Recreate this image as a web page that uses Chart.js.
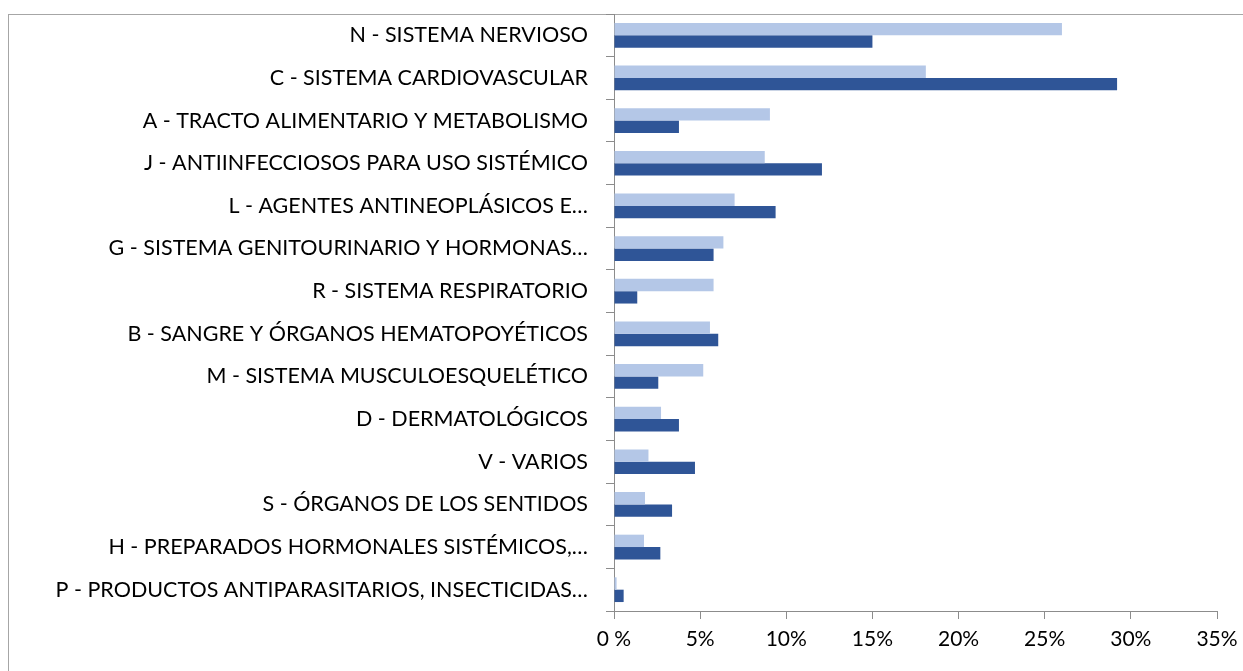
<!DOCTYPE html>
<html>
<head>
<meta charset="utf-8">
<script src="https://cdn.jsdelivr.net/npm/chart.js@4.4.1/dist/chart.umd.min.js"></script>
<style>
  html, body { margin: 0; padding: 0; background: #fff; }
  #wrap { position: relative; width: 1243px; height: 671px; }
</style>
</head>
<body>
<div id="wrap"><canvas id="chart" width="1243" height="671"></canvas></div>
<script>
const categories = [
  'N - SISTEMA NERVIOSO',
  'C - SISTEMA CARDIOVASCULAR',
  'A - TRACTO ALIMENTARIO Y METABOLISMO',
  'J - ANTIINFECCIOSOS PARA USO SISTÉMICO',
  'L - AGENTES ANTINEOPLÁSICOS E…',
  'G - SISTEMA GENITOURINARIO Y HORMONAS…',
  'R - SISTEMA RESPIRATORIO',
  'B - SANGRE Y ÓRGANOS HEMATOPOYÉTICOS',
  'M - SISTEMA MUSCULOESQUELÉTICO',
  'D - DERMATOLÓGICOS',
  'V - VARIOS',
  'S - ÓRGANOS DE LOS SENTIDOS',
  'H - PREPARADOS HORMONALES SISTÉMICOS,…',
  'P - PRODUCTOS ANTIPARASITARIOS, INSECTICIDAS…'
];
// percentages, light series (top bar of each pair)
const seriesLight = [26.0, 18.1, 9.05, 8.75, 7.0, 6.35, 5.78, 5.57, 5.18, 2.73, 2.0, 1.8, 1.74, 0.15];
// percentages, dark series (bottom bar of each pair)
const seriesDark = [15.0, 29.2, 3.77, 12.07, 9.38, 5.78, 1.35, 6.05, 2.57, 3.77, 4.7, 3.37, 2.69, 0.56];
const xTicks = [0, 5, 10, 15, 20, 25, 30, 35];

const FONT = 'Lato, "Open Sans", sans-serif';
const axisGray = '#8c8c8c';

// chart frame: left and top edges visible
const framePlugin = {
  id: 'frame',
  beforeDraw(chart) {
    const ctx = chart.ctx;
    ctx.save();
    ctx.fillStyle = '#fff';
    ctx.fillRect(0, 0, chart.width, chart.height);
    ctx.strokeStyle = '#a6a6a6';
    ctx.lineWidth = 1;
    ctx.strokeRect(8.5, 14.5, 1300, 700);
    ctx.restore();
  }
};

new Chart(document.getElementById('chart').getContext('2d'), {
  type: 'bar',
  data: {
    labels: categories,
    datasets: [
      { label: 'light', data: seriesLight, backgroundColor: '#b4c7e7', borderWidth: 0 },
      { label: 'dark', data: seriesDark, backgroundColor: '#2f5597', borderWidth: 0 }
    ]
  },
  options: {
    indexAxis: 'y',
    responsive: false,
    animation: false,
    devicePixelRatio: 1,
    categoryPercentage: 0.58,
    barPercentage: 1.0,
    layout: { padding: { left: 0, top: 14, right: 26, bottom: 0 } },
    plugins: {
      legend: { display: false },
      tooltip: { enabled: false }
    },
    scales: {
      x: {
        min: 0,
        max: 35,
        afterBuildTicks(scale) {
          scale.ticks = xTicks.map(v => ({ value: v }));
        },
        afterFit(scale) {
          scale.height = 60;
          scale.paddingLeft = 0;
          scale.paddingRight = 0;
        },
        grid: { drawOnChartArea: false, tickLength: 8, color: axisGray },
        border: { color: axisGray },
        ticks: {
          padding: 8,
          color: '#000',
          font: { family: FONT, size: 21 },
          callback: v => v === 0 ? '0 %' : v + '%'
        }
      },
      y: {
        afterFit(scale) {
          scale.width = 614;
          scale.paddingTop = 0;
          scale.paddingBottom = 0;
        },
        grid: { drawOnChartArea: false, tickLength: 8, color: axisGray, offset: true },
        border: { color: axisGray },
        ticks: {
          padding: 18,
          color: '#000',
          autoSkip: false,
          font: { family: FONT, size: 21.5 }
        }
      }
    }
  },
  plugins: [framePlugin]
});
</script>
</body>
</html>
